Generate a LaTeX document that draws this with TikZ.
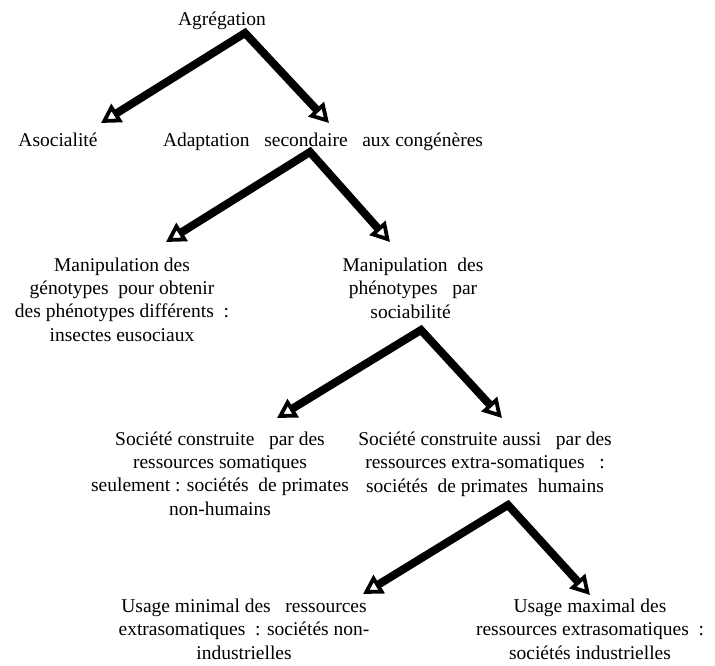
\documentclass[tikz,border=0pt]{standalone}
\usepackage{fontspec}
\setmainfont{Liberation Serif}
\usepackage{tikz}
\usetikzlibrary{arrows.meta}
\usetikzlibrary{positioning}

\tikzset{
	txt/.style={align=center, inner sep=0pt, anchor=base, font=\fontsize{19.5}{23.3}\selectfont},
	fleche/.style={line width=8pt, {Triangle[open, length=19pt, width=21pt, line width=3.8pt]}-{Triangle[open, length=19pt, width=21pt, line width=3.8pt]}},
}

\begin{document}
\begin{tikzpicture}[x=1pt,y=-1pt]
		\useasboundingbox (0,0) rectangle (715,666);

		\node[txt](A) at (222,26){Agrégation};

		\node[txt](B) at (58,147){Asocialité};
		\node[txt](C) at (323,147){Adaptation\ \ \ secondaire\ \ \ aux congénères};

		% base = last line
		\node[txt](D) at (122,341){Manipulation des\\ génotypes\ \ pour obtenir\\ des phénotypes différents\ \ :\\ insectes eusociaux};
		\node[txt](E) at (413,318){Manipulation\ \ des\\ phénotypes\ \ \ par\\ sociabilité\ \ };

		\node[txt](F) at (220,515){Société construite\ \ \ par des\\ ressources somatiques\\ seulement : sociétés\ \ de primates\\ non-humains};
		\node[txt](G) at (485,492){Société construite aussi\ \ \ par des\\ ressources extra-somatiques\ \ \ :\\ sociétés\ \ de primates\ \ humains};

		\node[txt](H) at (244,659){Usage minimal des\ \ \ ressources\\ extrasomatiques\ \ : sociétés non-\\ industrielles};
		\node[txt](I) at (590,659){Usage maximal des\\ ressources extrasomatiques\ \ :\\ sociétés industrielles};

		% fleches
		\coordinate(A1) at (245,33);
		\coordinate(B1) at (101,123);
		\coordinate(C1) at (329,123);
		\coordinate(C2) at (310,152);
		\coordinate(D1) at (166,242);
		\coordinate(E1) at (390,242);
		\coordinate(E2) at (421,330);
		\coordinate(F1) at (277,418);
		\coordinate(G1) at (502,418);
		\coordinate(G2) at (508,505);
		\coordinate(H1) at (363,594);
		\coordinate(I1) at (590,595);

		\draw[fleche] (B1) -- (A1) -- (C1);
		\draw[fleche] (D1) -- (C2) -- (E1);
		\draw[fleche] (F1) -- (E2) -- (G1);
		\draw[fleche] (H1) -- (G2) -- (I1);
	\end{tikzpicture}
\end{document}
